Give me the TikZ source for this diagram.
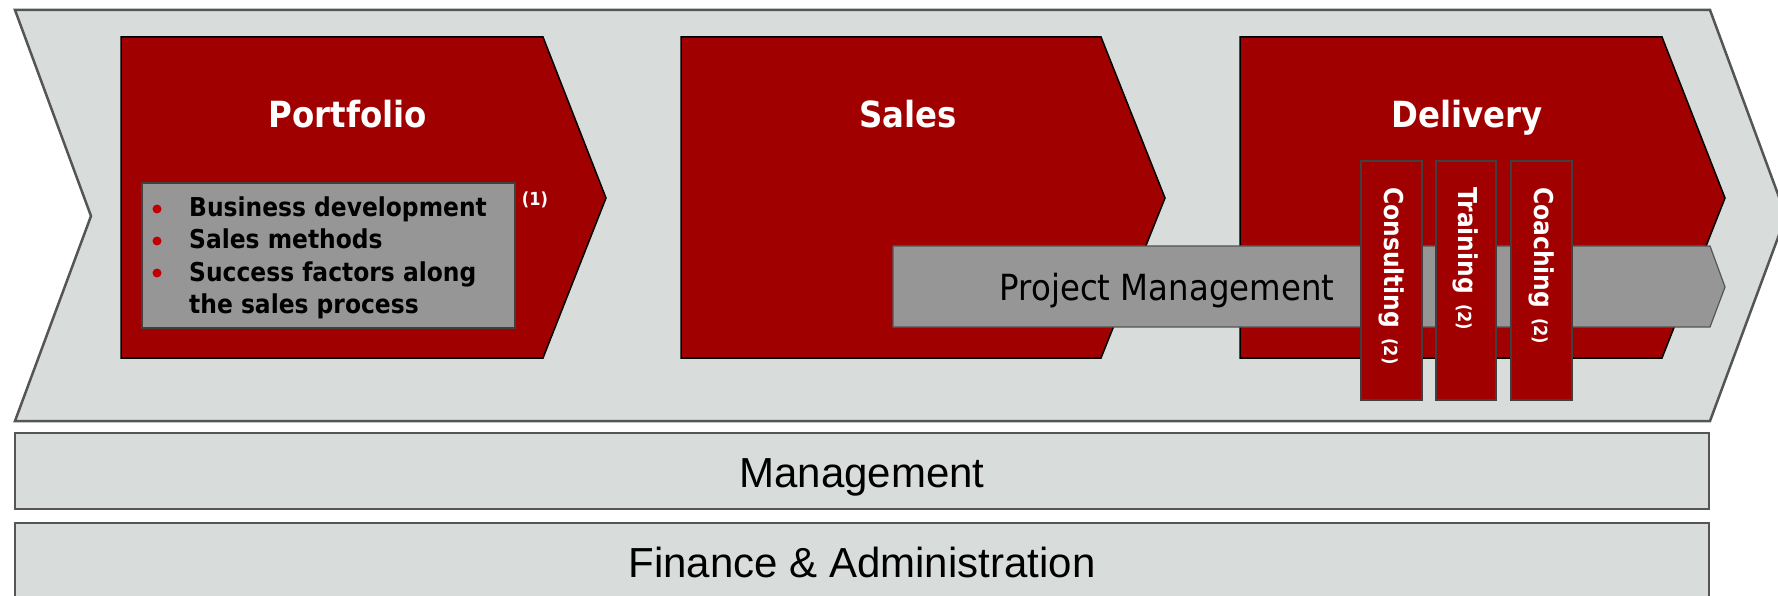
\documentclass[tikz,border=0pt]{standalone}
\usepackage{fontspec}
\newfontfamily\tah[FakeStretch=0.9]{DejaVu Sans}
\newfontfamily\ari{Liberation Sans}
\definecolor{bgray}{RGB}{216,220,219}
\definecolor{dred}{RGB}{160,0,0}
\definecolor{mgray}{RGB}{150,150,150}
\definecolor{oborder}{RGB}{85,85,85}
\definecolor{iborder}{RGB}{64,64,64}
\definecolor{bul}{RGB}{192,0,0}
\begin{document}
\begin{tikzpicture}[x=1pt,y=-1pt,
  outer/.style={fill=bgray, draw=oborder, line width=2.5pt, line join=miter},
  chev/.style={fill=dred, draw=black, line width=1.5pt, line join=miter},
  gbox/.style={fill=mgray, draw=iborder, line width=1.5pt},
  pmarrow/.style={fill=mgray, draw=oborder, line width=1.2pt},
  vbox/.style={fill=dred, draw=iborder, line width=1.5pt},
  title/.style={text=white, inner sep=0, anchor=base, font={\tah\bfseries\fontsize{36}{40}\selectfont}},
  bitem/.style={text=black, inner sep=0, anchor=base west, font={\tah\bfseries\fontsize{26}{30}\selectfont}},
  band/.style={text=black, inner sep=0, anchor=base, font={\ari\fontsize{42}{46}\selectfont}},
  vlabel/.style={text=white, inner sep=0, anchor=west, rotate=-90, font={\tah\bfseries}},
  dot/.style={circle, fill=bul, inner sep=0, minimum size=9pt}
]
\useasboundingbox (0,0) rectangle (1778,596);

% outer value chain
\draw[outer] (15,10) -- (1710,10) -- (1786,216) -- (1710,421) -- (15,421) -- (91,216) -- cycle;
% support bands
\draw[outer] (15,433) rectangle (1709,509);
\draw[outer] (15,523) rectangle (1709,608);
\node[band] (mgmt) at (862,487) {Management};
\node[band] (fin) at (862,577) {Finance \& Administration};

% Portfolio
\draw[chev] (121,37) -- (543,37) -- (606,198) -- (543,358) -- (121,358) -- cycle;
\node[title] (portfolio) at (348,128) {Portfolio};
\draw[gbox] (142,183) rectangle (515,328);
\node[dot] (d1) at (157,209) {};
\node[dot] (d2) at (157,241) {};
\node[dot] (d3) at (157,273) {};
\node[bitem] (b1) at (189,217) {Business development};
\node[bitem] (b2) at (189,249) {Sales methods};
\node[bitem] (b3) at (189,281) {Success factors along};
\node[bitem] (b4) at (189,313) {the sales process};
\node[text=white, inner sep=0, font={\tah\bfseries\fontsize{18}{20}\selectfont}] (fn1) at (535,200) {(1)};

% Sales
\draw[chev] (681,37) -- (1101,37) -- (1165,198) -- (1101,358) -- (681,358) -- cycle;
\node[title] (sales) at (908,128) {Sales};

% Delivery
\draw[chev] (1240,37) -- (1662,37) -- (1725,198) -- (1662,358) -- (1240,358) -- cycle;
\node[title] (delivery) at (1467,128) {Delivery};

% Project management arrow
\draw[pmarrow] (893,246) -- (1710,246) -- (1725,287) -- (1710,327) -- (893,327) -- cycle;
\node[text=black, inner sep=0, anchor=base, font={\tah\fontsize{36}{40}\selectfont}] (pm) at (1167,300) {Project Management};

% vertical service boxes
\draw[vbox] (1361,161) rectangle (1422,400);
\draw[vbox] (1436,161) rectangle (1496,400);
\draw[vbox] (1511,161) rectangle (1572,400);
\node[vlabel] (cons) at (1392,187) {{\fontsize{26}{30}\selectfont Consulting}\hspace{10pt}{\fontsize{18}{20}\selectfont (2)}};
\node[vlabel] (train) at (1466,187) {{\fontsize{26}{30}\selectfont Training}\hspace{10pt}{\fontsize{18}{20}\selectfont (2)}};
\node[vlabel] (coach) at (1542,187) {{\fontsize{26}{30}\selectfont Coaching}\hspace{10pt}{\fontsize{18}{20}\selectfont (2)}};
\end{tikzpicture}
\end{document}
